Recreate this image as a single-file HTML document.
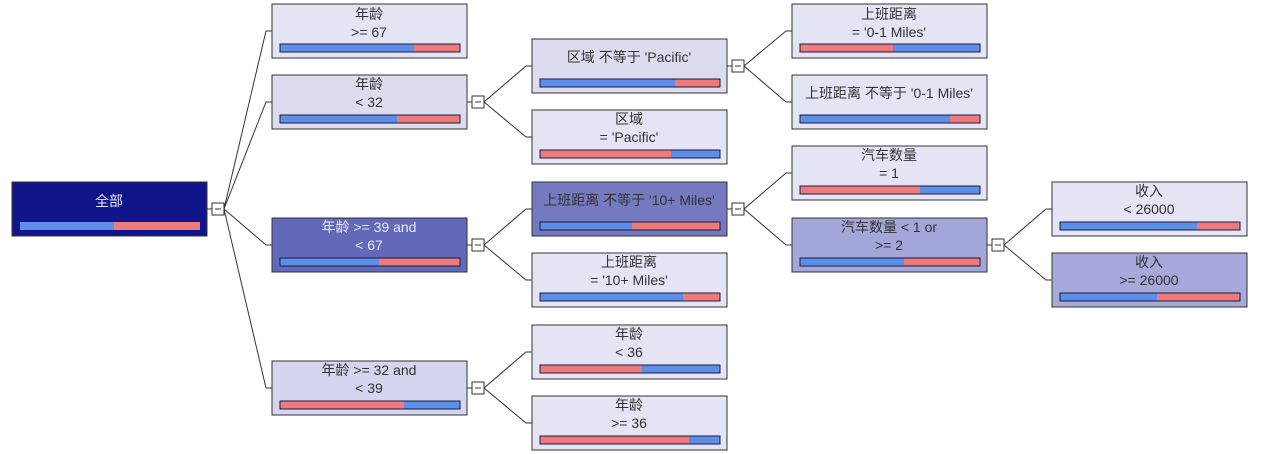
<!DOCTYPE html>
<html><head><meta charset="utf-8"><style>
html,body{margin:0;padding:0;background:#fff;width:1280px;height:454px;overflow:hidden}
text{font-family:"Liberation Sans","Noto Sans CJK SC",sans-serif;font-size:14px;fill:#333;text-anchor:middle}
.w text{fill:#e8e8ff}
.bx{stroke:#333;stroke-width:1}
.bb{fill:#5b8fe8}.br{fill:#ee7b7b}
.bo{fill:none;stroke:#1a1a40;stroke-width:1}
.ln{fill:none;stroke:#333;stroke-width:1}
.bt{fill:#fff;stroke:#333;stroke-width:1}
</style></head><body>
<svg width="1280" height="454" xmlns="http://www.w3.org/2000/svg">
<g class="ln">
<polyline points="224,209 266,31 272,31"/>
<polyline points="224,209 266,102 272,102"/>
<polyline points="224,209 266,245 272,245"/>
<polyline points="224,209 266,388 272,388"/>
<polyline points="484,102 526,66 532,66"/>
<polyline points="484,102 526,137 532,137"/>
<polyline points="484,245 526,209 532,209"/>
<polyline points="484,245 526,280 532,280"/>
<polyline points="484,388 526,352 532,352"/>
<polyline points="484,388 526,423 532,423"/>
<polyline points="744,66 786,31 792,31"/>
<polyline points="744,66 786,102 792,102"/>
<polyline points="744,209 786,173 792,173"/>
<polyline points="744,209 786,245 792,245"/>
<polyline points="1004,245 1046,209 1052,209"/>
<polyline points="1004,245 1046,280 1052,280"/>
<line x1="207" y1="209" x2="212" y2="209"/>
<line x1="467" y1="102" x2="472" y2="102"/>
<line x1="467" y1="245" x2="472" y2="245"/>
<line x1="467" y1="388" x2="472" y2="388"/>
<line x1="727" y1="66" x2="732" y2="66"/>
<line x1="727" y1="209" x2="732" y2="209"/>
<line x1="987" y1="245" x2="992" y2="245"/>
</g>
<g>
<rect class="bt" x="212" y="203" width="12" height="12"/><line class="ln" x1="215" y1="209" x2="221" y2="209"/>
<rect class="bt" x="472" y="96" width="12" height="12"/><line class="ln" x1="475" y1="102" x2="481" y2="102"/>
<rect class="bt" x="472" y="239" width="12" height="12"/><line class="ln" x1="475" y1="245" x2="481" y2="245"/>
<rect class="bt" x="472" y="382" width="12" height="12"/><line class="ln" x1="475" y1="388" x2="481" y2="388"/>
<rect class="bt" x="732" y="60" width="12" height="12"/><line class="ln" x1="735" y1="66" x2="741" y2="66"/>
<rect class="bt" x="732" y="203" width="12" height="12"/><line class="ln" x1="735" y1="209" x2="741" y2="209"/>
<rect class="bt" x="992" y="239" width="12" height="12"/><line class="ln" x1="995" y1="245" x2="1001" y2="245"/>
</g>

<g class="w">
<rect class="bx" x="12" y="182" width="195" height="54" fill="#10168a"/>
<text x="109" y="206">全部</text>
<rect class="bb" x="20" y="222" width="94" height="8"/><rect class="br" x="114" y="222" width="86" height="8"/>
</g>

<rect class="bx" x="272" y="4" width="195" height="54" fill="#e4e4f4"/>
<text x="369" y="19">年龄</text><text x="369" y="37">&gt;= 67</text>
<rect class="bb" x="280" y="44" width="134" height="8"/><rect class="br" x="414" y="44" width="46" height="8"/><rect class="bo" x="280" y="44" width="180" height="8"/>

<rect class="bx" x="272" y="75" width="195" height="54" fill="#dcdcee"/>
<text x="369" y="89">年龄</text><text x="369" y="107">&lt; 32</text>
<rect class="bb" x="280" y="115" width="117" height="8"/><rect class="br" x="397" y="115" width="63" height="8"/><rect class="bo" x="280" y="115" width="180" height="8"/>

<g class="w">
<rect class="bx" x="272" y="218" width="195" height="54" fill="#6369b9"/>
<text x="369" y="232">年龄 &gt;= 39 and</text><text x="369" y="250">&lt; 67</text>
</g>
<rect class="bb" x="280" y="258" width="99" height="8"/><rect class="br" x="379" y="258" width="81" height="8"/><rect class="bo" x="280" y="258" width="180" height="8"/>

<rect class="bx" x="272" y="361" width="195" height="54" fill="#d4d5ee"/>
<text x="369" y="375">年龄 &gt;= 32 and</text><text x="369" y="393">&lt; 39</text>
<rect class="br" x="280" y="401" width="124" height="8"/><rect class="bb" x="404" y="401" width="56" height="8"/><rect class="bo" x="280" y="401" width="180" height="8"/>

<rect class="bx" x="532" y="39" width="195" height="54" fill="#dcdcee"/>
<text x="629" y="62">区域 不等于 'Pacific'</text>
<rect class="bb" x="540" y="79" width="135" height="8"/><rect class="br" x="675" y="79" width="45" height="8"/><rect class="bo" x="540" y="79" width="180" height="8"/>

<rect class="bx" x="532" y="110" width="195" height="54" fill="#e4e4f4"/>
<text x="629" y="124">区域</text><text x="629" y="142">= 'Pacific'</text>
<rect class="br" x="540" y="150" width="131" height="8"/><rect class="bb" x="671" y="150" width="49" height="8"/><rect class="bo" x="540" y="150" width="180" height="8"/>

<rect class="bx" x="532" y="182" width="195" height="54" fill="#7479c0"/>
<text x="629" y="205">上班距离 不等于 '10+ Miles'</text>
<rect class="bb" x="540" y="222" width="92" height="8"/><rect class="br" x="632" y="222" width="88" height="8"/><rect class="bo" x="540" y="222" width="180" height="8"/>

<rect class="bx" x="532" y="253" width="195" height="54" fill="#e4e4f4"/>
<text x="629" y="267">上班距离</text><text x="629" y="285">= '10+ Miles'</text>
<rect class="bb" x="540" y="293" width="143" height="8"/><rect class="br" x="683" y="293" width="37" height="8"/><rect class="bo" x="540" y="293" width="180" height="8"/>

<rect class="bx" x="532" y="325" width="195" height="54" fill="#e4e4f4"/>
<text x="629" y="339">年龄</text><text x="629" y="357">&lt; 36</text>
<rect class="br" x="540" y="365" width="102" height="8"/><rect class="bb" x="642" y="365" width="78" height="8"/><rect class="bo" x="540" y="365" width="180" height="8"/>

<rect class="bx" x="532" y="396" width="195" height="54" fill="#e4e4f4"/>
<text x="629" y="410">年龄</text><text x="629" y="428">&gt;= 36</text>
<rect class="br" x="540" y="436" width="149" height="8"/><rect class="bb" x="689" y="436" width="31" height="8"/><rect class="bo" x="540" y="436" width="180" height="8"/>

<rect class="bx" x="792" y="4" width="195" height="54" fill="#e4e4f4"/>
<text x="889" y="19">上班距离</text><text x="889" y="37">= '0-1 Miles'</text>
<rect class="br" x="800" y="44" width="93" height="8"/><rect class="bb" x="893" y="44" width="87" height="8"/><rect class="bo" x="800" y="44" width="180" height="8"/>

<rect class="bx" x="792" y="75" width="195" height="54" fill="#e4e4f4"/>
<text x="889" y="98">上班距离 不等于 '0-1 Miles'</text>
<rect class="bb" x="800" y="115" width="150" height="8"/><rect class="br" x="950" y="115" width="30" height="8"/><rect class="bo" x="800" y="115" width="180" height="8"/>

<rect class="bx" x="792" y="146" width="195" height="54" fill="#e4e4f4"/>
<text x="889" y="160">汽车数量</text><text x="889" y="178">= 1</text>
<rect class="br" x="800" y="186" width="120" height="8"/><rect class="bb" x="920" y="186" width="60" height="8"/><rect class="bo" x="800" y="186" width="180" height="8"/>

<rect class="bx" x="792" y="218" width="195" height="54" fill="#a3a6d9"/>
<text x="889" y="232">汽车数量 &lt; 1 or</text><text x="889" y="250">&gt;= 2</text>
<rect class="bb" x="800" y="258" width="104" height="8"/><rect class="br" x="904" y="258" width="76" height="8"/><rect class="bo" x="800" y="258" width="180" height="8"/>

<rect class="bx" x="1052" y="182" width="195" height="54" fill="#e4e4f4"/>
<text x="1149" y="196">收入</text><text x="1149" y="214">&lt; 26000</text>
<rect class="bb" x="1060" y="222" width="137" height="8"/><rect class="br" x="1197" y="222" width="43" height="8"/><rect class="bo" x="1060" y="222" width="180" height="8"/>

<rect class="bx" x="1052" y="253" width="195" height="54" fill="#a6a9da"/>
<text x="1149" y="267">收入</text><text x="1149" y="285">&gt;= 26000</text>
<rect class="bb" x="1060" y="293" width="97" height="8"/><rect class="br" x="1157" y="293" width="83" height="8"/><rect class="bo" x="1060" y="293" width="180" height="8"/>
</svg>
</body></html>
